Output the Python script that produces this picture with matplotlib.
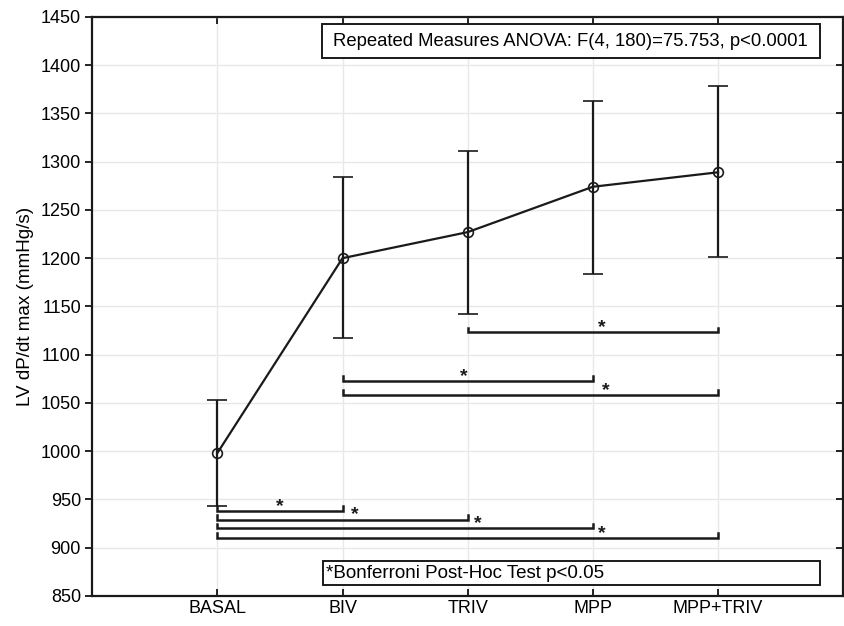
import matplotlib
matplotlib.use('Agg')
import matplotlib.pyplot as plt
from matplotlib.patches import Rectangle
from matplotlib.lines import TICKLEFT

plt.rcParams['font.family'] = ['Liberation Sans', 'DejaVu Sans']

# 数据
groups = ['BASAL', 'BIV', 'TRIV', 'MPP', 'MPP+TRIV']
means = [998, 1200, 1227, 1274, 1289]
err_lo = [55, 83, 85, 90, 88]
err_hi = [55, 84, 84, 89, 89]

# 显著性括号: (起点组, 终点组, 高度, 星号x位置)
br_start = [1, 1, 1, 1, 2, 2, 3]
br_end = [2, 3, 4, 5, 4, 5, 5]
br_y = [938, 929, 920, 910, 1073, 1058, 1123]
star_x = [1.5, 2.1, 3.08, 4.07, 2.97, 4.1, 4.07]

yticks = list(range(850, 1451, 50))

fig = plt.figure(figsize=(8.45, 6.26), dpi=100)
ax = fig.add_axes([0.109, 0.048, 0.889, 0.925])

x = list(range(1, len(groups) + 1))
ax.errorbar(x, means, yerr=[err_lo, err_hi], color='#1a1a1a', lw=1.6,
            marker='o', mfc='none', mec='#1a1a1a', ms=7, mew=1.2,
            capsize=7, capthick=1.8, elinewidth=1.6, zorder=3)

tick_h = 5
for s, e, y, sx in zip(br_start, br_end, br_y, star_x):
    ax.plot([s, s, e, e], [y + tick_h, y, y, y + tick_h], color='#1a1a1a', lw=1.8,
            solid_joinstyle='miter', zorder=3)
    ax.text(sx, y - 4, '*', ha='center', va='bottom', fontsize=14,
            fontweight='bold', color='#1a1a1a')

ax.set_xlim(0, 6)
ax.set_ylim(850, 1450)
ax.set_xticks(x)
ax.set_xticklabels(groups, fontsize=13)
ax.set_yticks(yticks)
ax.set_yticklabels([str(v) for v in yticks], fontsize=13)
ax.set_ylabel('LV dP/dt max (mmHg/s)', fontsize=13.6, labelpad=5)

ax.grid(True, color='#e8e8e8', lw=1)
ax.set_axisbelow(True)
ax.tick_params(axis='y', direction='out', length=5, width=1.2, left=True, right=True, pad=3)
ax.tick_params(axis='x', direction='in', length=5, width=1.2, top=True, bottom=True, pad=3)
for sp in ax.spines.values():
    sp.set_linewidth(1.6)
    sp.set_color('#1a1a1a')

# 右侧刻度向内
for t in ax.yaxis.get_major_ticks():
    t.tick2line.set_marker(TICKLEFT)

# ANOVA 文本框
ax.add_patch(Rectangle((0.306, 0.929), 0.663, 0.059, transform=ax.transAxes,
                       fc='white', ec='#1a1a1a', lw=1.4, zorder=4))
ax.text(0.637, 0.958, 'Repeated Measures ANOVA: F(4, 180)=75.753, p<0.0001',
        transform=ax.transAxes, fontsize=13.3, ha='center', va='center', zorder=5)

# Bonferroni 文本框
ax.add_patch(Rectangle((0.308, 0.019), 0.661, 0.041, transform=ax.transAxes,
                       fc='white', ec='#1a1a1a', lw=1.4, zorder=4))
ax.text(0.312, 0.039, '*Bonferroni Post-Hoc Test p<0.05',
        transform=ax.transAxes, fontsize=13.5, ha='left', va='center', zorder=5)

plt.savefig('out.png', dpi=100)
